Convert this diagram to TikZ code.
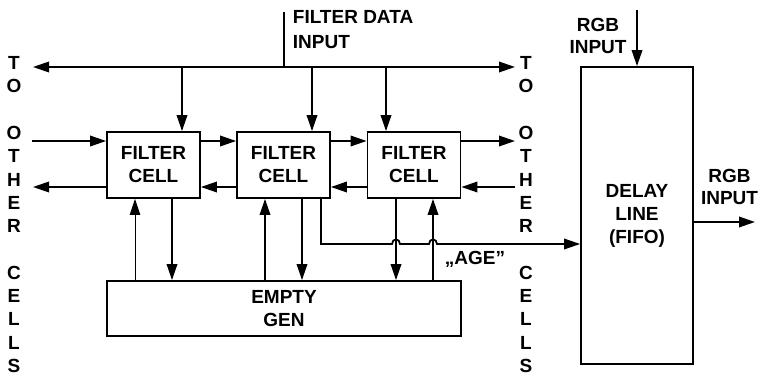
\documentclass[tikz,border=0pt]{standalone}
\usepackage{fontspec}
\setmainfont{Liberation Sans}
\usetikzlibrary{arrows.meta}
\newcommand{\dfont}{\fontsize{19}{23}\selectfont\bfseries}
\newcommand{\dfontw}{\fontsize{19}{25}\selectfont\bfseries}
\newcommand{\dfontn}{\fontsize{19}{22}\selectfont\bfseries}
\begin{document}
\begin{tikzpicture}[x=1pt,y=-1pt,
  line width=1.8pt,
  arr/.style={-{Triangle[length=16pt,width=10.5pt]}},
  darr/.style={{Triangle[length=16pt,width=10.5pt]}-{Triangle[length=16pt,width=10.5pt]}},
  box/.style={draw,line width=1.8pt,inner sep=0pt,align=center,font=\dfont},
  lbl/.style={inner sep=0pt,font=\dfont},
  ]
\useasboundingbox (0,0) rectangle (759,377);

% blocks
\node[box,minimum width=93pt,minimum height=66pt] (c1) at (153.5,165) {FILTER\\CELL};
\node[box,minimum width=93pt,minimum height=66pt] (c2) at (283.5,165) {FILTER\\CELL};
\node[box,minimum width=93pt,minimum height=66pt] (c3) at (414,165) {FILTER\\CELL};
\node[box,minimum width=354pt,minimum height=55pt] (gen) at (284,308.5) {EMPTY\\GEN};
\node[box,minimum width=112pt,minimum height=297pt] (delay) at (637,215.5) {DELAY\\LINE\\(FIFO)};

% labels
\node[lbl,anchor=west,align=left,font=\dfontw] (fdi) at (292,29.2) {FILTER DATA\\INPUT};
\node[lbl,align=center,font=\dfontn] (rgbi) at (598,36) {RGB\\INPUT};
\node[lbl,align=center,font=\dfontn] (rgbo) at (729.5,186.5) {RGB\\INPUT};
\node[lbl,anchor=base] (age) at (475,264) {„AGE”};
\foreach \i/\ch in {0/T,1/O,3/O,4/T,5/H,6/E,7/R,9/C,10/E,11/L,12/L,13/S}{
  \node[lbl] (lt\i) at (14,63+23.3*\i) {\ch};
  \node[lbl] (rt\i) at (526,63+23.3*\i) {\ch};
}

% helper coordinates
\coordinate (bus) at (0,67);
\coordinate (busL) at (33,67);
\coordinate (busR) at (515,67);
\coordinate (dtop) at (284,12);
\coordinate (d1) at (182,0);
\coordinate (d2) at (312,0);
\coordinate (d3) at (386,0);
\coordinate (rowT) at (0,141);
\coordinate (rowB) at (0,187);
\coordinate (inL) at (32,141);
\coordinate (outR) at (515,141);
\coordinate (inR) at (515,187);
\coordinate (outL) at (33,187);
\coordinate (v1) at (135,0);
\coordinate (v2) at (172,0);
\coordinate (v3) at (265,0);
\coordinate (v4) at (302,0);
\coordinate (v5) at (396,0);
\coordinate (v6) at (433,0);
\coordinate (v7) at (321,0);
\coordinate (ageY) at (0,244);
\coordinate (rgbtop) at (637,10);
\coordinate (rowO) at (0,222);
\coordinate (rgbend) at (755,222);

% filter data bus
\draw (dtop) -- (dtop |- bus);
\draw[darr] (busL) -- (busR);
\draw[arr] (d1 |- bus) -- (d1 |- c1.north);
\draw[arr] (d2 |- bus) -- (d2 |- c2.north);
\draw[arr] (d3 |- bus) -- (d3 |- c3.north);

% cell chain
\draw[arr] (inL) -- (c1.west |- rowT);
\draw[arr] (c1.east |- rowT) -- (c2.west |- rowT);
\draw[arr] (c2.east |- rowT) -- (c3.west |- rowT);
\draw[arr] (c3.east |- rowT) -- (outR);
\draw[arr] (inR) -- (c3.east |- rowB);
\draw[arr] (c3.west |- rowB) -- (c2.east |- rowB);
\draw[arr] (c2.west |- rowB) -- (c1.east |- rowB);
\draw[arr] (c1.west |- rowB) -- (outL);

% cells <-> empty gen
\draw[arr,line width=1pt] (v1 |- gen.north) -- (v1 |- c1.south);
\draw[arr] (v2 |- c1.south) -- (v2 |- gen.north);
\draw[arr] (v3 |- gen.north) -- (v3 |- c2.south);
\draw[arr] (v4 |- c2.south) -- (v4 |- gen.north);
\draw[arr] (v5 |- c3.south) -- (v5 |- gen.north);
\draw[arr] (v6 |- gen.north) -- (v6 |- c3.south);

% AGE line with hops
\draw[arr] (v7 |- c2.south) -- (v7 |- ageY) -- (392,244)
  .. controls (392,238) and (400,238) .. (400,244) -- (429,244)
  .. controls (429,238) and (437,238) .. (437,244) -- (delay.west |- ageY);

% RGB
\draw[arr] (rgbtop) -- (rgbtop |- delay.north);
\draw[arr] (delay.east |- rowO) -- (rgbend);
\end{tikzpicture}
\end{document}
